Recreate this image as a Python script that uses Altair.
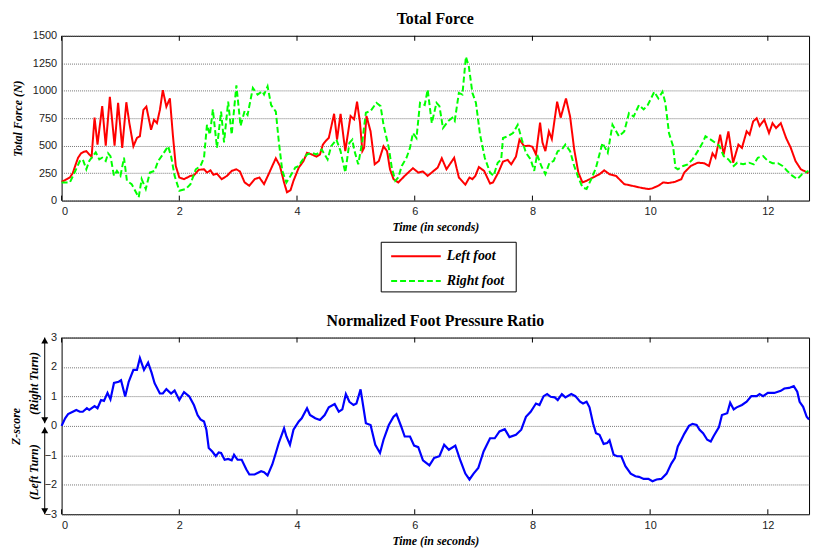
import altair as alt
import pandas as pd

# ---------------- data ----------------
series_names = ["Left foot", "Right foot"]
series_colors = ["#ff0000", "#00ff00"]
turn_labels = ["(Right Turn)", "(Left Turn)"]

left_t = [0, 0.07, 0.14, 0.19, 0.24, 0.28, 0.33, 0.38, 0.42, 0.47, 0.51, 0.56, 0.61, 0.69, 0.75, 0.82, 0.9, 0.96,
          1.03, 1.1, 1.15, 1.22, 1.28, 1.33, 1.39, 1.44, 1.52, 1.57, 1.62, 1.67, 1.72, 1.78, 1.84, 1.89, 1.94, 2.0,
          2.08, 2.19, 2.25, 2.33, 2.42, 2.47, 2.53, 2.58, 2.64, 2.72, 2.81, 2.89, 2.97, 3.03, 3.11, 3.19, 3.28, 3.36,
          3.44, 3.53, 3.58, 3.64, 3.71, 3.78, 3.83, 3.89, 3.94, 4.03, 4.11, 4.17, 4.25, 4.33, 4.39, 4.44, 4.5, 4.54,
          4.63, 4.68, 4.74, 4.82, 4.91, 4.97, 5.02, 5.07, 5.11, 5.14, 5.18, 5.25, 5.32, 5.39, 5.47, 5.53, 5.58, 5.64,
          5.72, 5.83, 5.97, 6.06, 6.14, 6.22, 6.31, 6.39, 6.46, 6.54, 6.67, 6.75, 6.86, 6.93, 6.98, 7.03, 7.09, 7.18,
          7.28, 7.33, 7.42, 7.5, 7.58, 7.64, 7.72, 7.78, 7.86, 7.94, 8.0, 8.06, 8.13, 8.17, 8.22, 8.28, 8.33, 8.42,
          8.48, 8.57, 8.64, 8.71, 8.78, 8.85, 8.92, 9.03, 9.14, 9.22, 9.31, 9.42, 9.56, 9.69, 9.86, 9.97, 10.03, 10.14,
          10.22, 10.31, 10.42, 10.53, 10.58, 10.69, 10.81, 10.92, 11.0, 11.06, 11.11, 11.19, 11.25, 11.33, 11.41,
          11.5, 11.56, 11.64, 11.69, 11.75, 11.81, 11.86, 11.94, 12.02, 12.08, 12.14, 12.22, 12.31, 12.39, 12.47,
          12.56, 12.69]
left_force = [170, 190, 210, 250, 330, 390, 430, 445, 450, 420, 400, 755, 510, 860, 500, 945, 500, 890,
              480, 895, 710, 495, 570, 585, 825, 855, 645, 735, 705, 825, 1005, 855, 930, 600, 315, 210,
              195, 225, 230, 280, 285, 255, 275, 235, 245, 195, 225, 270, 285, 265, 165, 135, 195, 210,
              150, 255, 315, 385, 315, 165, 75, 95, 180, 300, 360, 435, 420, 400, 420, 510, 550, 570,
              790, 555, 790, 450, 770, 740, 900, 710, 450, 480, 770, 630, 330, 360, 495, 450, 285, 195,
              165, 225, 295, 255, 265, 225, 265, 300, 385, 285, 390, 210, 145, 210, 195, 225, 305, 270,
              155, 165, 255, 355, 370, 330, 400, 555, 495, 500, 490, 420, 710, 530, 450, 630, 560, 900,
              755, 930, 765, 465, 255, 165, 180, 210, 240, 275, 240, 225, 150, 135, 115, 105, 110, 135,
              165, 160, 170, 195, 255, 315, 345, 340, 315, 430, 390, 600, 420, 630, 345,
              510, 480, 630, 600, 720, 750, 680, 735, 615, 705, 660, 705, 570, 480, 360,
              285, 250]

right_t = [0, 0.14, 0.22, 0.31, 0.36, 0.42, 0.47, 0.53, 0.58, 0.64, 0.69, 0.75, 0.79, 0.83, 0.89, 0.94, 1.0,
           1.06, 1.11, 1.19, 1.25, 1.31, 1.36, 1.43, 1.5, 1.58, 1.64, 1.72, 1.81, 1.86, 1.92, 2.0, 2.11, 2.19, 2.28,
           2.36, 2.42, 2.47, 2.52, 2.57, 2.64, 2.71, 2.76, 2.83, 2.89, 2.97, 3.04, 3.11, 3.16, 3.25, 3.33, 3.41,
           3.44, 3.5, 3.56, 3.64, 3.69, 3.75, 3.82, 3.89, 3.97, 4.03, 4.08, 4.17, 4.25, 4.33, 4.42, 4.52, 4.58,
           4.67, 4.74, 4.82, 4.89, 4.94, 4.97, 5.04, 5.11, 5.17, 5.25, 5.35, 5.42, 5.47, 5.56, 5.61, 5.67, 5.72,
           5.78, 5.86, 5.92, 5.97, 6.03, 6.09, 6.17, 6.22, 6.29, 6.37, 6.42, 6.48, 6.57, 6.64, 6.68, 6.75, 6.81,
           6.87, 6.92, 6.98, 7.04, 7.11, 7.19, 7.28, 7.34, 7.41, 7.47, 7.5, 7.58, 7.67, 7.75, 7.82, 7.89, 7.97,
           8.03, 8.08, 8.15, 8.22, 8.29, 8.36, 8.43, 8.5, 8.56, 8.64, 8.71, 8.78, 8.85, 8.92, 9.0, 9.08, 9.19,
           9.28, 9.36, 9.47, 9.56, 9.64, 9.72, 9.81, 9.89, 9.96, 10.07, 10.14, 10.21, 10.26, 10.32, 10.39, 10.43,
           10.47, 10.56, 10.64, 10.72, 10.81, 10.89, 10.94, 11.03, 11.11, 11.18, 11.25, 11.33, 11.42, 11.48, 11.58,
           11.68, 11.76, 11.83, 11.92, 12.0, 12.08, 12.17, 12.25, 12.33, 12.42, 12.5, 12.58, 12.69]
right_force = [165, 165, 255, 360, 375, 285, 360, 405, 440, 375, 390, 360, 430, 405, 225, 270, 225,
               390, 180, 150, 90, 30, 195, 105, 255, 270, 360, 420, 495, 405, 225, 90, 105, 150, 285,
               315, 390, 690, 600, 830, 480, 810, 530, 900, 600, 1050, 680, 815, 780, 1025, 965, 995,
               965, 1040, 870, 810, 540, 270, 165, 225, 300, 315, 360, 420, 435, 420, 465, 375, 495,
               555, 450, 255, 525, 555, 465, 330, 540, 800, 815, 890, 860, 690, 480, 300, 180, 210,
               315, 390, 480, 615, 570, 890, 870, 1010, 705, 890, 860, 660, 725, 755, 725, 980, 965,
               1310, 1220, 980, 890, 600, 390, 255, 225, 345, 375, 570, 585, 615, 690, 555, 435, 375,
               270, 420, 315, 240, 345, 360, 450, 465, 510, 450, 315, 210, 120, 105, 195, 300, 525,
               435, 690, 585, 630, 795, 765, 870, 830, 870, 990, 930, 990, 885, 615, 495, 300,
               285, 315, 330, 375, 450, 525, 585, 555, 525, 495, 405, 375, 315, 345, 330,
               345, 330, 390, 405, 360, 340, 340, 315, 270, 225, 195, 240, 270]

ratio_t = [0.0, 0.06, 0.11, 0.19, 0.25, 0.31, 0.36, 0.43, 0.47, 0.56, 0.61, 0.67, 0.72, 0.78, 0.83, 0.89, 0.97,
           1.01, 1.08, 1.14, 1.22, 1.28, 1.33, 1.4, 1.47, 1.53, 1.58, 1.67, 1.72, 1.78, 1.86, 1.92, 2.0, 2.08,
           2.17, 2.25, 2.31, 2.36, 2.42, 2.46, 2.5, 2.56, 2.62, 2.67, 2.71, 2.77, 2.83, 2.89, 2.93, 2.99, 3.06,
           3.14, 3.19, 3.28, 3.39, 3.44, 3.5, 3.58, 3.64, 3.69, 3.78, 3.82, 3.88, 3.94, 4.03, 4.08, 4.17, 4.22,
           4.31, 4.39, 4.47, 4.54, 4.64, 4.71, 4.77, 4.83, 4.89, 4.96, 5.01, 5.08, 5.17, 5.25, 5.33, 5.41, 5.47,
           5.56, 5.64, 5.69, 5.77, 5.83, 5.92, 5.99, 6.06, 6.14, 6.25, 6.33, 6.42, 6.5, 6.58, 6.69, 6.78, 6.86,
           6.93, 7.0, 7.08, 7.17, 7.28, 7.36, 7.44, 7.53, 7.61, 7.72, 7.81, 7.89, 7.97, 8.06, 8.12, 8.19, 8.25,
           8.31, 8.38, 8.43, 8.5, 8.56, 8.66, 8.73, 8.81, 8.86, 8.92, 8.97, 9.03, 9.08, 9.14, 9.21, 9.27, 9.31,
           9.38, 9.44, 9.51, 9.58, 9.67, 9.75, 9.81, 9.89, 9.97, 10.04, 10.11, 10.19, 10.28, 10.36, 10.42, 10.47,
           10.53, 10.58, 10.66, 10.72, 10.79, 10.84, 10.9, 10.97, 11.03, 11.08, 11.17, 11.22, 11.31, 11.36, 11.42,
           11.47, 11.56, 11.64, 11.72, 11.81, 11.86, 11.92, 12.0, 12.11, 12.22, 12.28, 12.36, 12.44, 12.5, 12.54,
           12.6, 12.66, 12.7]
ratio_z = [0.0, 0.26, 0.4, 0.48, 0.54, 0.48, 0.48, 0.6, 0.54, 0.67, 0.6, 0.88, 0.85, 1.12, 0.9, 1.46, 1.5,
           1.55, 1.0, 1.5, 1.9, 1.9, 2.3, 1.9, 2.15, 1.8, 1.45, 1.1, 1.1, 1.25, 1.1, 1.2, 0.88, 1.15,
           1.0, 0.7, 0.37, 0.22, 0.15, -0.13, -0.75, -0.87, -1.03, -0.9, -0.92, -1.15, -1.12, -1.17, -0.98, -1.15, -1.15,
           -1.48, -1.65, -1.65, -1.54, -1.57, -1.68, -1.31, -0.92, -0.58, -0.08, -0.36, -0.64, -0.13, 0.15, 0.26, 0.6, 0.37,
           0.26, 0.2, 0.37, 0.63, 0.74, 0.48, 0.56, 1.08, 0.82, 0.71, 0.76, 1.24, 0.09, 0.03, -0.64, -0.92, -0.47,
           0.03, 0.31, 0.4, -0.02, -0.36, -0.36, -0.67, -0.72, -1.17, -1.34, -1.09, -1.03, -0.64, -0.81, -0.67, -1.2, -1.62,
           -1.82, -1.62, -1.43, -0.87, -0.42, -0.42, -0.19, -0.11, -0.38, -0.3, -0.13, 0.31, 0.48, 0.76, 0.71, 1.01, 1.08,
           0.99, 0.97, 0.88, 1.08, 0.97, 1.08, 1.01, 0.82, 0.76, 0.82, 0.63, 0.09, -0.25, -0.3, -0.61, -0.58, -0.49,
           -0.98, -1.03, -1.03, -1.37, -1.62, -1.71, -1.73, -1.8, -1.8, -1.88, -1.82, -1.8, -1.62, -1.28, -1.09, -0.7,
           -0.47, -0.27, 0.0, 0.07, 0.03, -0.13, -0.25, -0.47, -0.53, -0.34, -0.04, 0.37, 0.43, 0.79, 0.56,
           0.63, 0.71, 0.82, 1.01, 1.01, 1.08, 1.01, 1.12, 1.12, 1.19, 1.27, 1.29, 1.35, 1.16, 0.82,
           0.65, 0.31, 0.22]

x_ticks = [0, 2, 4, 6, 8, 10, 12]
force_ticks = [0, 250, 500, 750, 1000, 1250, 1500]
z_ticks = [-3, -2, -1, 0, 1, 2, 3]

# annotation anchors on the z-score axis (arrow ends and label centres)
arrow_from = [3, -0.05]
arrow_to = [0.09, -3]
turn_label_z = [1.44, -1.57]

# ---------------- tables ----------------
force_df = pd.concat([
    pd.DataFrame({"time": left_t, "force": left_force, "series": series_names[0]}),
    pd.DataFrame({"time": right_t, "force": right_force, "series": series_names[1]}),
], ignore_index=True)
ratio_df = pd.DataFrame({"time": ratio_t, "z": ratio_z})
tick_df = pd.DataFrame({"time": x_ticks})
legend_df = pd.DataFrame({"series": series_names})
arrow_df = pd.DataFrame({"z1": arrow_from, "z2": arrow_to})
turn_df = pd.DataFrame({"label": turn_labels, "z": turn_label_z})
one_df = pd.DataFrame({"k": [0]})

W = 753
H1 = 166
H2 = 178

serif = "Liberation Serif"
x_scale = alt.Scale(domain=[0, 12.7], nice=False, zero=False)
color_scale = alt.Scale(domain=series_names, range=series_colors)
dash_scale = alt.Scale(domain=series_names, range=[[1, 0], [6, 3]])
x_axis = alt.Axis(values=x_ticks, format="d", title="Time (in seconds)", grid=False, titlePadding=5,
                  labelOverlap=False)


def inner_ticks(h):
    top = alt.Chart(tick_df).mark_rule(color="black", strokeWidth=1).encode(
        x=alt.X("time:Q", scale=x_scale), y=alt.value(0), y2=alt.value(5))
    bot = alt.Chart(tick_df).mark_rule(color="black", strokeWidth=1).encode(
        x=alt.X("time:Q", scale=x_scale), y=alt.value(h - 5), y2=alt.value(h))
    return top + bot


# ---------------- top chart ----------------
force_lines = alt.Chart(force_df).mark_line(strokeWidth=2).encode(
    x=alt.X("time:Q", scale=x_scale, axis=x_axis),
    y=alt.Y("force:Q", scale=alt.Scale(domain=[0, 1500], nice=False),
            axis=alt.Axis(values=force_ticks, format="d", labelOverlap=False,
                          title="Total Force (N)", titlePadding=8)),
    color=alt.Color("series:N", scale=color_scale, legend=None),
    strokeDash=alt.StrokeDash("series:N", scale=dash_scale, legend=None),
)

legend_y = alt.Y("series:N", scale=alt.Scale(type="point", domain=series_names, range=[222, 247], padding=0),
                 axis=None)
legend_box = alt.Chart(one_df).mark_rect(fill="white", stroke="black", strokeWidth=1).encode(
    x=alt.value(322), x2=alt.value(458), y=alt.value(208), y2=alt.value(258))
legend_lines = alt.Chart(legend_df).mark_rule(strokeWidth=2).encode(
    x=alt.value(332), x2=alt.value(382), y=legend_y,
    color=alt.Color("series:N", scale=color_scale, legend=None),
    strokeDash=alt.StrokeDash("series:N", scale=dash_scale, legend=None),
)
legend_text = alt.Chart(legend_df).mark_text(
    align="left", baseline="middle", font=serif, fontStyle="italic", fontWeight="bold", fontSize=14,
    color="black").encode(x=alt.value(388), y=legend_y, text="series:N")

top = alt.layer(
    force_lines, inner_ticks(H1), legend_box, legend_lines, legend_text
).resolve_scale(y="independent").properties(width=W, height=H1, title="Total Force")

# ---------------- bottom chart ----------------
z_scale = alt.Scale(domain=[-3, 3], nice=False, zero=False)
ratio_line = alt.Chart(ratio_df).mark_line(strokeWidth=2.2, color="#0000ff").encode(
    x=alt.X("time:Q", scale=x_scale, axis=x_axis),
    y=alt.Y("z:Q", scale=z_scale, axis=alt.Axis(values=z_ticks, format="d", labelOverlap=False,
                                                title="Z-score", titlePadding=22)),
)

arrow_x = alt.value(-17)
arrow_rules = alt.Chart(arrow_df).mark_rule(color="black", strokeWidth=1).encode(
    x=arrow_x, y=alt.Y("z1:Q", scale=z_scale, axis=None), y2="z2:Q")
arrow_up = alt.Chart(arrow_df).mark_point(
    shape="triangle-up", filled=True, size=49, color="black", opacity=1, yOffset=3).encode(
    x=arrow_x, y=alt.Y("z1:Q", scale=z_scale, axis=None))
arrow_down = alt.Chart(arrow_df).mark_point(
    shape="triangle-down", filled=True, size=49, color="black", opacity=1, yOffset=-3).encode(
    x=arrow_x, y=alt.Y("z2:Q", scale=z_scale, axis=None))
turn_text = alt.Chart(turn_df).mark_text(
    angle=270, align="center", baseline="middle", font=serif, fontStyle="italic", fontWeight="bold",
    fontSize=12, color="black").encode(
    x=alt.value(-28), y=alt.Y("z:Q", scale=z_scale, axis=None), text="label:N")

bottom = alt.layer(
    ratio_line, inner_ticks(H2), arrow_rules, arrow_up, arrow_down, turn_text
).resolve_scale(y="independent").properties(width=W, height=H2, title="Normalized Foot Pressure Ratio")

chart = alt.vconcat(top, bottom, spacing=19).configure(
    padding={"left": 0, "top": 0, "right": 0, "bottom": 0}, background="white"
).configure_view(stroke="black", strokeWidth=1).configure_axis(
    domain=False, ticks=False, labelFont="Liberation Sans", labelFontSize=11, labelColor="#222222",
    labelPadding=5, titleFont=serif, titleFontStyle="italic", titleFontWeight="bold", titleFontSize=12,
    titleColor="black", gridColor="#555555", gridDash=[1, 1], gridWidth=0.8, gridOpacity=1,
).configure_title(font=serif, fontSize=16, fontWeight="bold", color="black", offset=3)

chart.save("out.html", embed_options={"renderer": "svg", "actions": False})
